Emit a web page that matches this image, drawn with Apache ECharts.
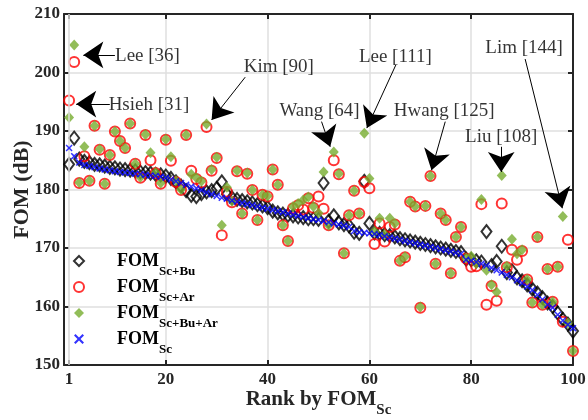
<!DOCTYPE html>
<html>
<head>
<meta charset="utf-8">
<script src="https://cdn.jsdelivr.net/npm/echarts@6/dist/echarts.min.js"></script>
<style>html,body{margin:0;padding:0;background:#fff;}#c{width:588px;height:420px;}</style>
</head>
<body>
<div id="c"></div>
<script>
const ranks = Array.from({length: 100}, (_, i) => i + 1);
const xTicks = [1, 20, 40, 60, 80, 100];
const yTicks = [150, 160, 170, 180, 190, 200, 210];

const fomSc = [
187.1,185.7,184.6,184.2,184.0,183.8,183.6,183.4,183.3,183.1,
183.0,182.9,182.8,182.7,182.6,182.5,182.4,182.3,182.2,182.0,
181.7,181.4,181.1,180.8,180.5,180.2,179.9,179.5,179.2,178.9,
178.6,178.4,178.1,177.9,177.7,177.5,177.3,177.1,176.9,176.7,
176.5,176.3,176.1,175.9,175.7,175.5,175.3,175.1,174.9,174.8,
174.6,174.4,174.2,174.0,173.8,173.6,172.9,172.7,172.6,172.5,
172.4,172.2,172.0,171.8,171.6,171.4,171.2,171.0,170.8,170.6,
170.4,170.2,170.0,169.8,169.6,169.4,169.2,169.0,168.0,167.8,
167.6,167.3,167.0,166.6,166.2,165.8,165.4,165.0,164.5,164.0,
163.4,162.8,162.0,161.2,160.3,159.8,158.6,157.6,156.9,156.3
];
const fomScBu = [
184.3,188.8,185.2,184.8,184.6,184.3,184.2,184.0,183.8,183.7,
183.5,183.4,183.3,183.2,183.0,182.9,182.8,182.6,182.5,182.3,
181.9,181.3,180.6,179.8,179.0,178.8,179.3,179.6,179.8,180.2,
181.3,179.2,178.6,178.3,178.1,177.9,177.7,177.4,177.2,176.9,
176.3,176.0,175.8,175.6,175.5,175.3,175.2,175.0,175.0,174.9,
181.1,174.6,175.5,174.3,174.0,173.8,172.7,172.5,181.4,174.2,
172.6,172.5,172.3,172.1,171.9,171.6,171.4,171.2,171.0,170.8,
170.6,170.4,170.2,170.0,169.8,169.6,169.4,169.2,168.1,168.0,
167.8,167.6,172.8,167.0,167.7,170.3,165.8,166.1,164.9,164.4,
163.7,163.0,162.3,161.5,160.6,160.0,158.9,157.8,157.0,155.8
];
const fomScAr = [
195.2,201.8,181.1,185.7,181.5,190.9,186.8,181.0,185.9,189.9,
188.3,187.1,191.3,184.4,182.0,189.3,185.0,182.8,181.0,188.5,
184.9,181.3,179.9,189.3,183.2,181.8,181.2,190.7,183.2,185.4,
172.2,179.6,177.8,183.1,175.9,182.7,179.9,174.8,179.1,178.8,
183.4,180.8,173.9,171.2,176.8,177.3,176.6,178.5,176.9,178.8,
176.7,173.9,185.0,182.6,169.1,175.6,179.8,175.9,181.3,180.2,
170.7,174.2,171.1,173.6,174.0,167.8,168.4,177.9,177.1,159.8,
177.2,182.3,167.3,175.9,174.8,165.7,171.9,173.6,168.2,166.8,
166.9,177.5,160.3,163.5,161.0,177.6,166.7,169.7,168.0,169.5,
164.6,160.7,171.9,160.3,166.4,160.8,166.8,157.4,171.4,152.4
];
const fomScBuAr = [
192.3,204.7,181.2,187.3,181.5,190.9,186.9,181.0,185.9,189.9,
188.3,187.1,191.3,184.4,182.1,189.4,186.3,182.9,181.1,188.6,
185.6,181.5,180.0,189.3,182.6,182.0,181.4,191.2,183.4,185.5,
173.9,180.4,178.0,183.2,175.9,182.8,179.9,174.8,179.1,178.9,
183.4,180.8,173.9,171.2,177.1,177.6,178.2,178.7,177.1,176.0,
183.0,173.9,186.4,182.7,169.1,175.6,179.8,175.9,189.6,181.9,
172.8,175.1,172.3,175.1,174.2,167.8,168.5,177.9,177.1,159.9,
177.2,182.3,167.3,175.9,174.8,165.7,171.9,173.6,168.3,168.6,
167.3,178.3,166.2,163.7,162.5,182.4,166.9,171.5,169.0,169.7,
164.6,160.7,171.9,160.3,166.4,160.8,166.8,175.4,157.2,152.4
];

const annotText = ['Lee [36]','Hsieh [31]','Kim [90]','Wang [64]','Lee [111]','Hwang [125]','Liu [108]','Lim [144]'];
const annotTextPos = [[16.4,202.9],[16.7,194.5],[42.2,201.0],[50.2,193.5],[65.1,202.6],[74.7,193.5],[85.9,188.9],[90.4,204.1]];
const annotFrom = [[10.0,203.0],[9.0,194.6],[35.6,199.2],[50.6,191.6],[65.2,201.3],[74.9,191.6],[85.9,187.3],[90.6,202.3]];
const annotTo = [[3.8,203.0],[2.4,194.6],[29.0,191.9],[52.3,187.3],[59.5,190.5],[72.2,183.3],[85.9,183.0],[97.9,176.8]];

const FONT = '"Liberation Serif","Times New Roman",serif';
const AX = '#262626';
const pair = arr => ranks.map((r, i) => [r, arr[i]]);
const xPath = 'path://M0,1.5L1.5,0L5,3.5L8.5,0L10,1.5L6.5,5L10,8.5L8.5,10L5,6.5L1.5,10L0,8.5L3.5,5Z';

const legRich = {
  b: {fontFamily: FONT, fontSize: 18, fontWeight: 'bold', color: '#000', verticalAlign: 'top', lineHeight: 18, padding: [0,0,0,28]},
  s: {fontFamily: FONT, fontSize: 13, fontWeight: 'bold', color: '#000', verticalAlign: 'top', lineHeight: 14, padding: [13,0,0,0]}
};
const legendLabels = {
  'FOM_Sc+Bu': '{b|FOM}{s|Sc+Bu}',
  'FOM_Sc+Ar': '{b|FOM}{s|Sc+Ar}',
  'FOM_Sc+Bu+Ar': '{b|FOM}{s|Sc+Bu+Ar}',
  'FOM_Sc': '{b|FOM}{s|Sc}'
};

const chart = echarts.init(document.getElementById('c'), null, {renderer: 'canvas'});
const tickLabel = {fontFamily: FONT, fontSize: 17, fontWeight: 'bold', color: AX};
chart.setOption({
  animation: false,
  grid: {left: 64, right: 15, top: 14, bottom: 55, containLabel: false, outerBoundsMode: 'none'},
  legend: {
    data: ['FOM_Sc+Bu', 'FOM_Sc+Ar', 'FOM_Sc+Bu+Ar', 'FOM_Sc'],
    orient: 'vertical', left: 73, top: 252, itemGap: 0, itemWidth: 10, itemHeight: 10, padding: 0,
    formatter: n => legendLabels[n],
    textStyle: {rich: legRich}
  },
  xAxis: [{
    type: 'value', min: 0, max: 100, interval: 20,
    name: '{b|Rank by FOM}{s|Sc}', nameLocation: 'middle', nameGap: 24, nameMoveOverlap: false,
    nameTextStyle: {rich: {
      b: {fontFamily: FONT, fontSize: 21, fontWeight: 'bold', color: AX, verticalAlign: 'top', lineHeight: 22},
      s: {fontFamily: FONT, fontSize: 15, fontWeight: 'bold', color: AX, verticalAlign: 'top', lineHeight: 16, padding: [14,0,0,0]}
    }},
    axisLine: {show: true, onZero: false, lineStyle: {color: AX, width: 2}},
    axisTick: {show: true, inside: true, length: 5, customValues: xTicks, lineStyle: {color: AX, width: 2}},
    axisLabel: {customValues: xTicks, margin: 6, ...tickLabel},
    splitLine: {show: true, lineStyle: {color: '#dfdfdf', width: 1.5}}
  }, {
    type: 'value', min: 0, max: 100, position: 'top',
    axisLine: {show: true, onZero: false, lineStyle: {color: AX, width: 2}},
    axisTick: {show: true, inside: true, length: 5, customValues: xTicks, lineStyle: {color: AX, width: 2}},
    axisLabel: {show: false}, splitLine: {show: false}
  }],
  yAxis: [{
    type: 'value', min: 150, max: 210, interval: 10,
    name: 'FOM (dB)', nameLocation: 'middle', nameGap: 31, nameRotate: 90, nameMoveOverlap: false,
    nameTextStyle: {fontFamily: FONT, fontSize: 22, fontWeight: 'bold', color: AX},
    axisLine: {show: true, onZero: false, lineStyle: {color: AX, width: 2}},
    axisTick: {show: true, inside: true, length: 5, lineStyle: {color: AX, width: 2}},
    axisLabel: {margin: 4, ...tickLabel},
    splitLine: {show: true, lineStyle: {color: '#dfdfdf', width: 1.5}}
  }, {
    type: 'value', min: 150, max: 210, interval: 10, position: 'right',
    axisLine: {show: true, onZero: false, lineStyle: {color: AX, width: 2}},
    axisTick: {show: true, inside: true, length: 5, lineStyle: {color: AX, width: 2}},
    axisLabel: {show: false}, splitLine: {show: false}
  }],
  series: [
    {
      name: 'FOM_Sc+Bu', type: 'scatter', data: pair(fomScBu),
      symbol: 'diamond', symbolSize: [10, 13],
      itemStyle: {color: 'rgba(255,255,255,0)', borderColor: '#000', borderWidth: 2},
      markLine: {silent: true, symbol: 'none', label: {show: false},
        lineStyle: {color: '#dfdfdf', width: 1.5, type: 'solid'}, data: [{xAxis: xTicks[0]}]},
      z: 2
    },
    {
      name: 'FOM_Sc+Ar', type: 'scatter', data: pair(fomScAr),
      symbol: 'circle', symbolSize: 10,
      itemStyle: {color: 'rgba(255,255,255,0)', borderColor: '#ff0000', borderWidth: 2},
      z: 3
    },
    {
      name: 'FOM_Sc+Bu+Ar', type: 'scatter', data: pair(fomScBuAr),
      symbol: 'diamond', symbolSize: [10, 11],
      itemStyle: {color: '#77ac30'},
      z: 4
    },
    {
      name: 'FOM_Sc', type: 'scatter', data: pair(fomSc),
      symbol: xPath, symbolSize: 7,
      itemStyle: {color: '#0000ff'},
      z: 5
    },
    {
      name: 'arrows', type: 'lines', coordinateSystem: 'cartesian2d', polyline: false,
      symbol: ['none', 'arrow'], symbolSize: [16, 20],
      lineStyle: {color: '#000', width: 1, opacity: 1},
      itemStyle: {color: '#000'},
      data: annotFrom.map((f, i) => ({coords: [f, annotTo[i]]})),
      z: 6, silent: true
    },
    {
      name: 'labels', type: 'scatter', symbolSize: 0,
      data: annotText.map((t, i) => ({name: t, value: annotTextPos[i]})),
      label: {show: true, position: 'inside', formatter: p => p.name,
        fontFamily: FONT, fontSize: 19, color: '#000'},
      z: 7, silent: true
    }
  ]
});
</script>
</body>
</html>
